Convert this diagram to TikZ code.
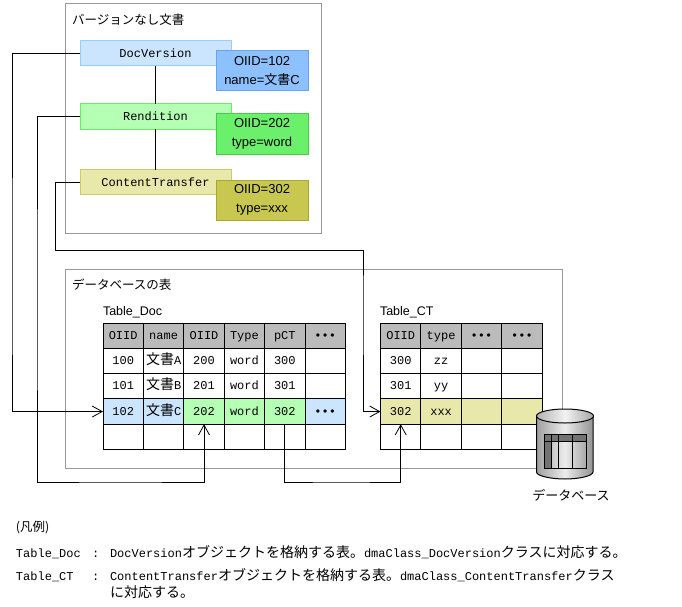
\documentclass[tikz,border=0pt]{standalone}
\usepackage{fontspec}
\setmainfont{Liberation Sans}
\setmonofont{Liberation Mono}
\newfontfamily\cjk{Noto Sans CJK JP}
\usetikzlibrary{arrows.meta}
\definecolor{docFill}{HTML}{CCE5FF}
\definecolor{docLine}{HTML}{99CCFF}
\definecolor{docInfo}{HTML}{8CC0FF}
\definecolor{docInfoLine}{HTML}{66A5EE}
\definecolor{renFill}{HTML}{B5FFB5}
\definecolor{renLine}{HTML}{66EE66}
\definecolor{renInfo}{HTML}{6AF06A}
\definecolor{renInfoLine}{HTML}{44CC44}
\definecolor{ctFill}{HTML}{E8E8AA}
\definecolor{ctLine}{HTML}{CCCC66}
\definecolor{ctInfo}{HTML}{C8C850}
\definecolor{ctInfoLine}{HTML}{A8A830}
\definecolor{headGray}{HTML}{BBBBBB}
\definecolor{frameGray}{HTML}{999999}
\newcommand{\jp}[2][14]{{\cjk\fontsize{#1}{#1}\selectfont #2}}
\newcommand{\dotsrow}{•••}
\tikzset{
  frame box/.style={draw=frameGray, line width=1pt},
  obj box/.style={line width=1pt, minimum width=151pt, minimum height=25pt,
    inner sep=0pt, outer sep=0pt, font=\ttfamily\fontsize{12}{12}\selectfont},
  info box/.style={line width=1pt, minimum width=92pt, minimum height=40pt,
    inner sep=0pt, outer sep=0pt, align=center,
    font=\fontsize{13}{19}\selectfont},
  tbl cell/.style={draw=black, line width=1pt, minimum width=40.4pt,
    minimum height=25.3pt, inner sep=0pt, outer sep=0pt,
    text height=7pt, text depth=0pt,
    font=\ttfamily\fontsize{12}{12}\selectfont},
  head/.style={fill=headGray},
  plain/.style={fill=white},
  blue/.style={fill=docFill},
  green/.style={fill=renFill},
  khaki/.style={fill=ctFill},
  link/.style={draw=black, line width=1pt},
  link arrow/.style={link, -{Straight Barb[length=10pt,width=11pt,line width=.8pt]}},
  caption/.style={anchor=base west, inner sep=0pt, outer sep=0pt},
  legend/.style={caption, font=\ttfamily\fontsize{12}{12}\selectfont}
}
\newcommand{\DrawTable}[3]{%
  \foreach \rowcells [count=\rowno] in {#3} {
    \foreach \cellstyle/\celltext [count=\colno] in \rowcells {
      \node[tbl cell,\cellstyle] (#1-\rowno-\colno)
        at ({#2+(\colno-0.5)*40.4},{323+(\rowno-0.5)*25.3}) {\celltext};
    }
  }
}
\begin{document}
\begin{tikzpicture}[x=1pt,y=-1pt]
  \useasboundingbox (0,0) rectangle (682,607);
  \draw[frame box] (65,4) rectangle (321,233);
  \draw[frame box] (65,269) rectangle (562,468);
  \node[caption] (titleobj) at (72,25) {\jp[12.5]{バージョンなし文書}};
  \node[caption] (titledb) at (72,289) {\jp[12.5]{データベースの表}};
  \node[caption,font=\fontsize{12.5}{13}\selectfont] (labeldoc) at (103,315) {Table\_Doc};
  \node[caption,font=\fontsize{12.5}{13}\selectfont] (labelct) at (380,315) {Table\_CT};

  \node[obj box,draw=docLine,fill=docFill] (docversion) at (155.5,53.5) {DocVersion};
  \node[obj box,draw=renLine,fill=renFill] (rendition) at (155.5,116.5) {Rendition};
  \node[obj box,draw=ctLine,fill=ctFill] (transfer) at (155.5,182) {ContentTransfer};
  \draw[link] (docversion) -- (rendition);
  \draw[link] (rendition) -- (transfer);
  \node[info box,draw=docInfoLine,fill=docInfo] (docinfo) at (262,71) {OIID=102\\name=\jp[13]{文書}C};
  \node[info box,draw=renInfoLine,fill=renInfo] (reninfo) at (262,134) {OIID=202\\type=word};
  \node[info box,draw=ctInfoLine,fill=ctInfo] (ctinfo) at (262,200) {OIID=302\\type=xxx};

  \DrawTable{doc}{103}{
    {head/OIID,head/name,head/OIID,head/Type,head/pCT,head/\dotsrow},
    {plain/100,plain/\jp{文書}A,plain/200,plain/word,plain/300,plain/},
    {plain/101,plain/\jp{文書}B,plain/201,plain/word,plain/301,plain/},
    {blue/102,blue/\jp{文書}C,green/202,green/word,green/302,blue/\dotsrow},
    {plain/,plain/,plain/,plain/,plain/,plain/}}
  \DrawTable{ct}{380.5}{
    {head/OIID,head/type,head/\dotsrow,head/\dotsrow},
    {plain/300,plain/zz,plain/,plain/},
    {plain/301,plain/yy,plain/,plain/},
    {khaki/302,khaki/xxx,khaki/,khaki/},
    {plain/,plain/,plain/,plain/}}

  \coordinate (railA) at (12,300);
  \coordinate (railB) at (37,300);
  \coordinate (railC) at (120,482);
  \coordinate (railD) at (55,250);
  \coordinate (railE) at (363,300);
  \coordinate (railF) at (340,482);
  \draw[link arrow] (docversion.west) -| (railA) |- (doc-4-1.west);
  \draw[link arrow] (rendition.west) -| (railB) |- (railC) -| (doc-5-3.north);
  \draw[link arrow] (transfer.west) -| (railD) -| (railE) |- (ct-4-1.west);
  \draw[link arrow] (doc-5-5.north) |- (railF) -| (ct-5-1.north);

  \path[left color=gray!75,right color=gray!85,middle color=gray!15,draw=black,line width=1pt]
    (536.5,416) -- (536.5,472) .. controls (536.5,476) and (551,479) .. (565,479)
    .. controls (579,479) and (593,476) .. (593,472) -- (593,416) -- cycle;
  \path[left color=gray!60,right color=gray!70,middle color=gray!10,draw=black,line width=1pt]
    (565,416) ellipse [x radius=28.5,y radius=7];
  \fill[gray!90!black] (544,434) rectangle (586,441);
  \fill[gray!90!black] (544,434) rectangle (551,468);
  \draw[black,line width=1pt] (544,434) rectangle (586,468);
  \draw[black,line width=1pt] (544,441) -- (586,441);
  \foreach \gridx in {551,558,572}
    \draw[black,line width=1pt] (\gridx,434) -- (\gridx,468);
  \node[caption,anchor=base] (dbname) at (571,500) {\jp[13]{データベース}};

  \node[caption] (legendhead) at (16,531) {\jp[12.5]{(凡例)}};
  \node[legend] (keydoc) at (16,557) {Table\_Doc};
  \node[legend] (sepdoc) at (92,557) {:};
  \node[legend] (textdoc) at (110,557) {DocVersion\jp{オブジェクトを格納する表。}dmaClass\_DocVersion\jp{クラスに対応する。}};
  \node[legend] (keyct) at (16,580) {Table\_CT};
  \node[legend] (sepct) at (92,580) {:};
  \node[legend] (textct) at (110,580) {ContentTransfer\jp{オブジェクトを格納する表。}dmaClass\_ContentTransfer\jp{クラス}};
  \node[legend] (textctb) at (110,597) {\jp{に対応する。}};
\end{tikzpicture}
\end{document}
